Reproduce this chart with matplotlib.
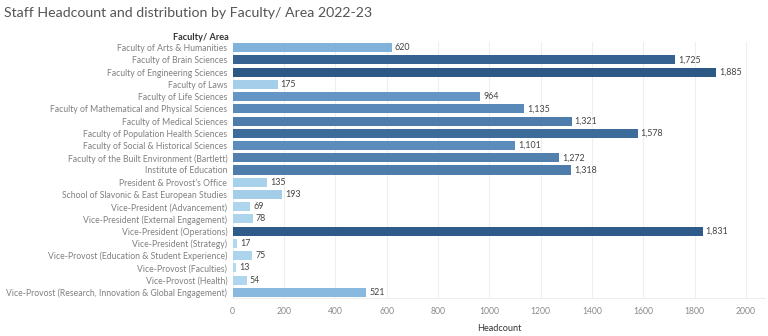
import matplotlib
matplotlib.use("Agg")
import matplotlib.pyplot as plt
import numpy as np
from matplotlib.colors import LinearSegmentedColormap

# ─── data ──────────────────────────────────────────────────────────
areas = [
    "Faculty of Arts & Humanities",
    "Faculty of Brain Sciences",
    "Faculty of Engineering Sciences",
    "Faculty of Laws",
    "Faculty of Life Sciences",
    "Faculty of Mathematical and Physical Sciences",
    "Faculty of Medical Sciences",
    "Faculty of Population Health Sciences",
    "Faculty of Social & Historical Sciences",
    "Faculty of the Built Environment (Bartlett)",
    "Institute of Education",
    "President & Provost\u2019s Office",
    "School of Slavonic & East European Studies",
    "Vice-President (Advancement)",
    "Vice-President (External Engagement)",
    "Vice-President (Operations)",
    "Vice-President (Strategy)",
    "Vice-Provost (Education & Student Experience)",
    "Vice-Provost (Faculties)",
    "Vice-Provost (Health)",
    "Vice-Provost (Research, Innovation & Global Engagement)",
]
headcount = [620, 1725, 1885, 175, 964, 1135, 1321, 1578, 1101, 1272, 1318,
             135, 193, 69, 78, 1831, 17, 75, 13, 54, 521]
x_ticks = [0, 200, 400, 600, 800, 1000, 1200, 1400, 1600, 1800, 2000]

# ─── style ─────────────────────────────────────────────────────────
FONT = ["Lato", "DejaVu Sans"]
CLR_LABEL = "#808080"
CLR_VALUE = "#444444"
CLR_HEAD = "#333333"
CLR_GRID = "#eeeeee"
cmap = LinearSegmentedColormap.from_list(
    "tblue", [(0.0, "#b3d9f0"), (0.33, "#80b2da"), (0.5, "#6596c6"),
              (1.0, "#2b5885")])

W, H = 768, 336
fig = plt.figure(figsize=(W / 100, H / 100), dpi=100)
ax = fig.add_axes([232.7 / W, 1 - 298.5 / H, (766 - 232.7) / W, (298.5 - 41.5) / H])

y = np.arange(len(areas))
vmax = max(headcount)
colors = [cmap(v / vmax) for v in headcount]
ax.barh(y, headcount, height=0.74, color=colors, zorder=2)

for yi, v in zip(y, headcount):
    ax.text(v + 12, yi, f"{v:,}", ha="left", va="center", fontsize=6.4,
            color=CLR_VALUE, family=FONT, zorder=3)

ax.set_ylim(len(areas) - 0.5, -0.5)
ax.set_xlim(0, (766 - 232.7) / 0.2566)
ax.set_yticks(y)
ax.set_yticklabels(areas, fontsize=6.2, color=CLR_LABEL, family=FONT)
ax.set_xticks(x_ticks)
ax.set_xticklabels([str(t) for t in x_ticks], fontsize=6.2, color="#8a8a8a", family=FONT)
ax.tick_params(axis="both", length=0)
ax.tick_params(axis="y", pad=4)
ax.tick_params(axis="x", pad=6)
ax.grid(axis="x", color=CLR_GRID, linewidth=0.8, zorder=0)
for s in ax.spines.values():
    s.set_visible(False)
ax.axhline(len(areas) - 0.5, color=CLR_GRID, linewidth=0.8, zorder=1)

ax.set_xlabel("Headcount", fontsize=6.6, color=CLR_HEAD, family=FONT, labelpad=6)

fig.text(229 / W, 1 - 38 / H, "Faculty/ Area", ha="right", va="center",
         fontsize=6.6, fontweight="bold", color=CLR_HEAD, family=FONT)
fig.text(4 / W, 1 - 13 / H, "Staff Headcount and distribution by Faculty/ Area 2022-23",
         ha="left", va="center", fontsize=10.2, color="#555555", family=FONT)

fig.savefig("out.png", dpi=100, facecolor="white")
